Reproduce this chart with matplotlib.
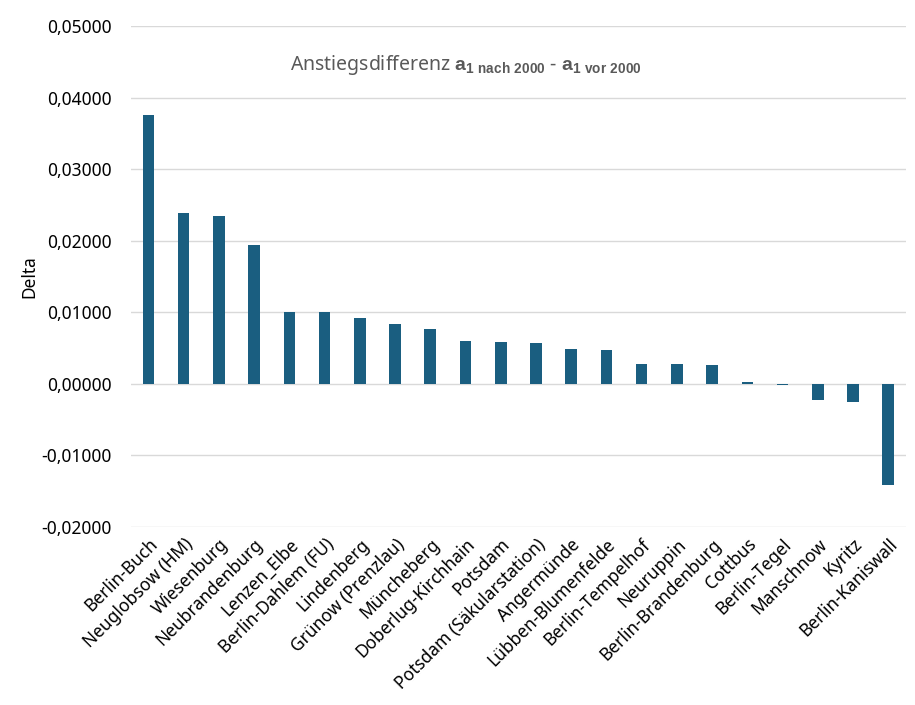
import matplotlib
matplotlib.use("Agg")
import matplotlib.pyplot as plt
from matplotlib.ticker import FuncFormatter

plt.rcParams['font.family'] = ['Noto Sans', 'DejaVu Sans']
plt.rcParams['mathtext.fontset'] = 'custom'
plt.rcParams['mathtext.rm'] = 'Liberation Sans'
plt.rcParams['mathtext.bf'] = 'Liberation Sans:bold'

stations = ["Berlin-Buch", "Neuglobsow (HM)", "Wiesenburg", "Neubrandenburg", "Lenzen_Elbe",
            "Berlin-Dahlem (FU)", "Lindenberg", "Grünow (Prenzlau)", "Müncheberg",
            "Doberlug-Kirchhain", "Potsdam", "Potsdam (Säkularstation)", "Angermünde",
            "Lübben-Blumenfelde", "Berlin-Tempelhof", "Neuruppin", "Berlin-Brandenburg",
            "Cottbus", "Berlin-Tegel", "Manschnow", "Kyritz", "Berlin-Kaniswall"]
delta = [0.0376, 0.0239, 0.0235, 0.0194, 0.0100, 0.0100, 0.0092, 0.0084, 0.0077,
         0.0060, 0.0059, 0.0057, 0.0049, 0.0047, 0.0028, 0.0028, 0.0026,
         0.0003, -0.0002, -0.0022, -0.0026, -0.0142]
yticks = [-0.02, -0.01, 0.0, 0.01, 0.02, 0.03, 0.04, 0.05]

fig = plt.figure(figsize=(9.15, 7.05), dpi=100)
ax = fig.add_axes([0.143, 0.2525, 0.847, 0.7105])
x = list(range(len(stations)))
ax.bar(x, delta, width=0.33, color='#1a5e80', zorder=3)
ax.set_xlim(-0.5, len(stations) - 0.5)
ax.set_ylim(-0.02, 0.05)
ax.set_yticks(yticks)
ax.yaxis.set_major_formatter(FuncFormatter(lambda v, p: f"{v:.5f}".replace('.', ',') if abs(v) > 1e-12 else "0,00000"))
ax.grid(axis='y', color='#d9d9d9', linewidth=1, zorder=0)
for s in ax.spines.values():
    s.set_visible(False)
ax.tick_params(axis='both', length=0, labelsize=12.5, colors='black')
ax.tick_params(axis='y', pad=14)
ax.set_xticks(x)
ax.set_xticklabels(stations, rotation=45, ha='right', rotation_mode='anchor', fontsize=12.5)
ax.tick_params(axis='x', pad=6)
ax.set_ylabel("Delta", fontsize=12.5, labelpad=2)

fig.text(466 / 915, 1 - 65 / 705,
         r"Anstiegsdifferenz $\mathbf{a}_{\mathbf{1\ nach\ 2000}}$ - $\mathbf{a}_{\mathbf{1\ vor\ 2000}}$",
         ha='center', va='center', fontsize=14, color='#595959')

fig.savefig("out.png", dpi=100)
